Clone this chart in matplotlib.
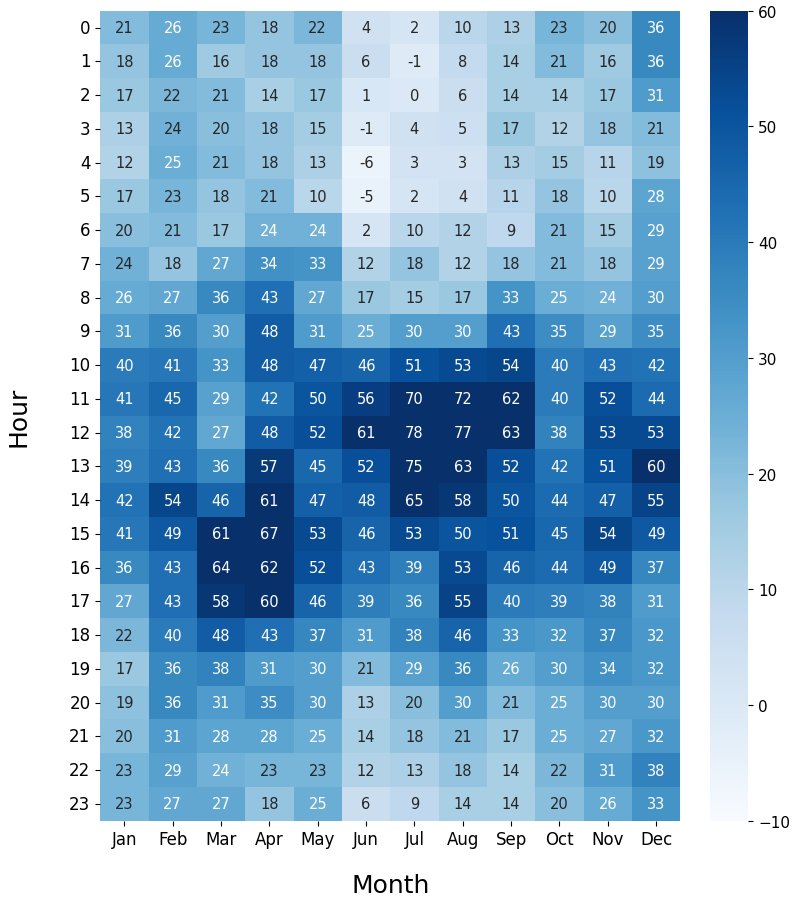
import matplotlib
matplotlib.use("Agg")
import matplotlib.pyplot as plt
import seaborn as sns
import numpy as np

months = ['Jan', 'Feb', 'Mar', 'Apr', 'May', 'Jun', 'Jul', 'Aug', 'Sep', 'Oct', 'Nov', 'Dec']
hours = list(range(24))

# rows = hour 0..23, cols = Jan..Dec
values = [
    [21, 26, 23, 18, 22, 4, 2, 10, 13, 23, 20, 36],
    [18, 26, 16, 18, 18, 6, -1, 8, 14, 21, 16, 36],
    [17, 22, 21, 14, 17, 1, 0, 6, 14, 14, 17, 31],
    [13, 24, 20, 18, 15, -1, 4, 5, 17, 12, 18, 21],
    [12, 25, 21, 18, 13, -6, 3, 3, 13, 15, 11, 19],
    [17, 23, 18, 21, 10, -5, 2, 4, 11, 18, 10, 28],
    [20, 21, 17, 24, 24, 2, 10, 12, 9, 21, 15, 29],
    [24, 18, 27, 34, 33, 12, 18, 12, 18, 21, 18, 29],
    [26, 27, 36, 43, 27, 17, 15, 17, 33, 25, 24, 30],
    [31, 36, 30, 48, 31, 25, 30, 30, 43, 35, 29, 35],
    [40, 41, 33, 48, 47, 46, 51, 53, 54, 40, 43, 42],
    [41, 45, 29, 42, 50, 56, 70, 72, 62, 40, 52, 44],
    [38, 42, 27, 48, 52, 61, 78, 77, 63, 38, 53, 53],
    [39, 43, 36, 57, 45, 52, 75, 63, 52, 42, 51, 60],
    [42, 54, 46, 61, 47, 48, 65, 58, 50, 44, 47, 55],
    [41, 49, 61, 67, 53, 46, 53, 50, 51, 45, 54, 49],
    [36, 43, 64, 62, 52, 43, 39, 53, 46, 44, 49, 37],
    [27, 43, 58, 60, 46, 39, 36, 55, 40, 39, 38, 31],
    [22, 40, 48, 43, 37, 31, 38, 46, 33, 32, 37, 32],
    [17, 36, 38, 31, 30, 21, 29, 36, 26, 30, 34, 32],
    [19, 36, 31, 35, 30, 13, 20, 30, 21, 25, 30, 30],
    [20, 31, 28, 28, 25, 14, 18, 21, 17, 25, 27, 32],
    [23, 29, 24, 23, 23, 12, 13, 18, 14, 22, 31, 38],
    [23, 27, 27, 18, 25, 6, 9, 14, 14, 20, 26, 33],
]

# cells (hour, month index) whose label is dark in the original
dark_cells = [(3, 1), (7, 0)]

data = np.array(values, dtype=float)

fig = plt.figure(figsize=(8.08, 9.03), dpi=100)
ax = fig.add_axes([0.124, 0.090, 0.718, 0.897])
cax = fig.add_axes([0.879, 0.090, 0.047, 0.897])

sns.heatmap(data, ax=ax, cbar_ax=cax, cmap='Blues', vmin=-10, vmax=60,
            annot=True, fmt='.0f', annot_kws={'fontsize': 10.5},
            xticklabels=months, yticklabels=hours)

ncol = len(months)
for r, c in dark_cells:
    ax.texts[r * ncol + c].set_color('.15')

ax.set_xlabel('Month', fontsize=18, labelpad=18)
ax.set_ylabel('Hour', fontsize=18, labelpad=28)
ax.tick_params(axis='both', labelsize=12)
plt.setp(ax.get_yticklabels(), rotation=0)
plt.setp(ax.get_xticklabels(), rotation=0)
cax.tick_params(labelsize=11)

fig.savefig('out.png', dpi=100)
